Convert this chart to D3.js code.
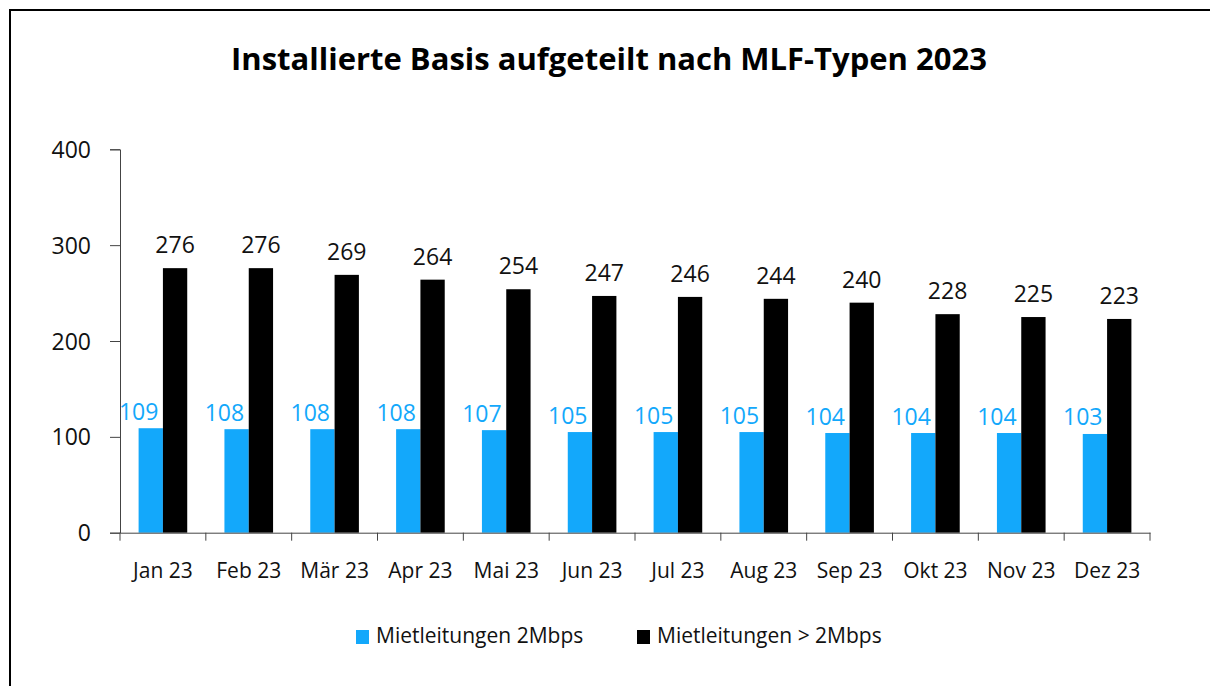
<!DOCTYPE html>
<html>
<head>
<meta charset="utf-8">
<script src="https://cdn.jsdelivr.net/npm/d3@7"></script>
<style>
  body { margin: 0; background: #fff; }
  svg { display: block; font-family: "Open Sans", sans-serif; }
</style>
</head>
<body>
<div id="chart"></div>
<script>
// data
const months = ['Jan 23', 'Feb 23', 'Mär 23', 'Apr 23', 'Mai 23', 'Jun 23', 'Jul 23', 'Aug 23', 'Sep 23', 'Okt 23', 'Nov 23', 'Dez 23'];
const seriesNames = ['Mietleitungen 2Mbps', 'Mietleitungen > 2Mbps'];
const lowSpeed = [109, 108, 108, 108, 107, 105, 105, 105, 104, 104, 104, 103];
const highSpeed = [276, 276, 269, 264, 254, 247, 246, 244, 240, 228, 225, 223];
const yTicks = [0, 100, 200, 300, 400];
const colors = ['#13a8fb', '#000000'];

const width = 1210, height = 686;

const svg = d3.select('#chart').append('svg')
  .attr('width', width)
  .attr('height', height);

// frame (only top and left edges are visible in the shot)
svg.append('path')
  .attr('d', `M10,${height} L10,10 L${width},10`)
  .attr('fill', 'none')
  .attr('stroke', '#000')
  .attr('stroke-width', 2);

svg.append('text')
  .attr('x', 609)
  .attr('y', 70)
  .attr('text-anchor', 'middle')
  .style('font-size', '31px')
  .style('font-weight', 'bold')
  .text('Installierte Basis aufgeteilt nach MLF-Typen 2023');

// scales
const x = d3.scaleBand()
  .domain(months)
  .range([120, 1150])
  .padding(0);

const x1 = d3.scaleBand()
  .domain([0, 1])
  .range([0, x.bandwidth()])
  .paddingInner(0)
  .paddingOuter(0.765);

const y = d3.scaleLinear()
  .domain([0, 400])
  .range([532.7, 149.3]);

const rows = months.map((m, i) => ({ month: m, values: [lowSpeed[i], highSpeed[i]] }));

// bars
const groups = svg.selectAll('.group')
  .data(rows)
  .enter().append('g')
  .attr('class', 'group')
  .attr('transform', d => `translate(${x(d.month)},0)`);

groups.selectAll('rect')
  .data(d => d.values.map((v, k) => ({ k: k, v: v })))
  .enter().append('rect')
  .attr('x', d => x1(d.k))
  .attr('y', d => y(d.v))
  .attr('width', x1.bandwidth())
  .attr('height', d => y(0) - y(d.v))
  .attr('fill', d => colors[d.k]);

// value labels - blue ones sit a bit to the left like in excel
groups.selectAll('.val')
  .data(d => d.values.map((v, k) => ({ k: k, v: v })))
  .enter().append('text')
  .attr('class', 'val')
  .attr('x', d => d.k === 0 ? x1(0) : x1(1) + x1.bandwidth() / 2)
  .attr('y', d => y(d.v) - (d.k === 0 ? 8.5 : 15))
  .attr('text-anchor', 'middle')
  .style('font-size', '23px')
  .attr('fill', d => colors[d.k] === '#000000' ? '#111' : colors[d.k])
  .text(d => d.v);

// y axis
const yAxis = svg.append('g')
  .attr('transform', 'translate(120,0)')
  .call(d3.axisLeft(y).tickValues(yTicks).tickSize(10).tickPadding(19));
yAxis.select('.domain').attr('stroke', '#444');
yAxis.selectAll('.tick line').attr('stroke', '#444');
yAxis.selectAll('text')
  .style('font-size', '23px')
  .style('font-family', '"Open Sans", sans-serif')
  .attr('fill', '#111')
  .attr('dy', '0.35em');

// x axis, ticks between categories
const xAxis = svg.append('g')
  .attr('transform', `translate(0,${y(0)})`)
  .call(d3.axisBottom(x).tickSize(0).tickPadding(30));
xAxis.select('.domain').attr('stroke', '#444');
xAxis.selectAll('text')
  .style('font-size', '21px')
  .style('font-family', '"Open Sans", sans-serif')
  .attr('fill', '#111');
xAxis.selectAll('.sep')
  .data(months.concat(['end']))
  .enter().append('line')
  .attr('class', 'sep')
  .attr('x1', (d, i) => i < months.length ? x(d) : x.range()[1])
  .attr('x2', (d, i) => i < months.length ? x(d) : x.range()[1])
  .attr('y1', 0)
  .attr('y2', 8)
  .attr('stroke', '#444');

// legend
const legendX = [356, 637];
const legend = svg.selectAll('.legend')
  .data(seriesNames)
  .enter().append('g')
  .attr('class', 'legend')
  .attr('transform', (d, i) => `translate(${legendX[i]},630)`);
legend.append('rect')
  .attr('width', 13)
  .attr('height', 14)
  .attr('fill', (d, i) => colors[i]);
legend.append('text')
  .attr('x', 20)
  .attr('y', 13)
  .style('font-size', '21px')
  .attr('fill', '#111')
  .text(d => d);
</script>
</body>
</html>
